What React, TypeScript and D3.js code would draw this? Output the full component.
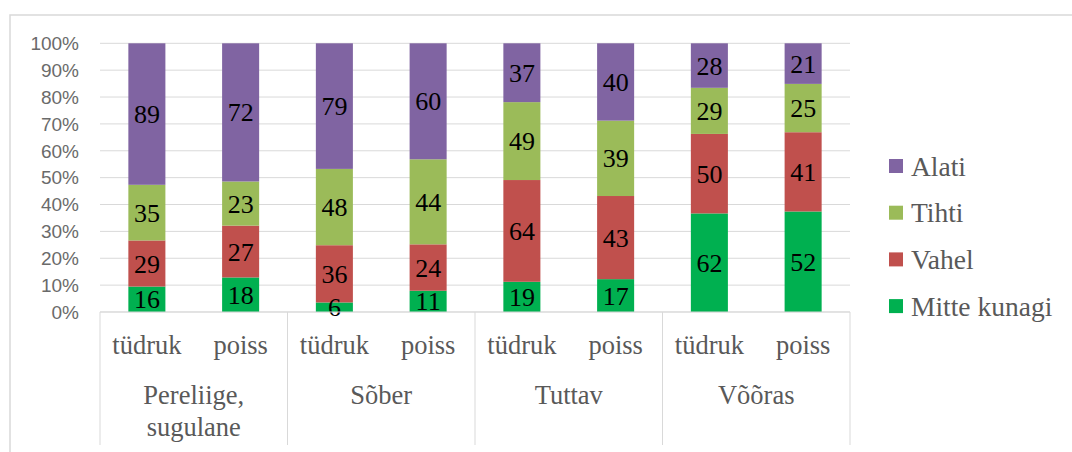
import React from "react";
import * as d3 from "d3";

const groups = ["Pereliige,|sugulane", "Sõber", "Tuttav", "Võõras"];
const genders = ["tüdruk", "poiss"];
const seriesNames = ["Mitte kunagi", "Vahel", "Tihti", "Alati"];
const seriesColors = ["#00B050", "#C0504D", "#9BBB59", "#8064A2"];
const mitteKunagi = [16, 18, 6, 11, 19, 17, 62, 52];
const vahel = [29, 27, 36, 24, 64, 43, 50, 41];
const tihti = [35, 23, 48, 44, 49, 39, 29, 25];
const alati = [89, 72, 79, 60, 37, 40, 28, 21];
const yTicks = [0, 0.1, 0.2, 0.3, 0.4, 0.5, 0.6, 0.7, 0.8, 0.9, 1];

const W = 1072;
const H = 452;
const plot = { left: 100, right: 850, top: 43.3, bottom: 312 };
const serif = "'Liberation Serif', 'Times New Roman', serif";
const sans = "'Liberation Sans', Arial, sans-serif";

export default function App() {
  const keys = groups.flatMap((g, gi) => genders.map((s) => `${gi}-${s}`));
  const x = d3
    .scaleBand<string>()
    .domain(keys)
    .range([plot.left, plot.right])
    .paddingInner(0.605)
    .paddingOuter(0.3025);
  const y = d3.scaleLinear().domain([0, 1]).range([plot.bottom, plot.top]);
  const seriesData = [mitteKunagi, vahel, tihti, alati];

  const rows = keys.map((k, i) => {
    const obj: any = { key: k };
    seriesNames.forEach((n, si) => (obj[n] = seriesData[si][i]));
    return obj;
  });
  const stacked = d3.stack<any>().keys(seriesNames).offset(d3.stackOffsetExpand)(rows);
  const groupW = (plot.right - plot.left) / groups.length;

  return (
    <div style={{ position: "absolute", left: 0, top: 0 }}>
      <svg width={W} height={H} style={{ display: "block", background: "#fff" }}>
        <rect x={10} y={15} width={W + 20} height={H + 20} fill="none" stroke="#d9d9d9" strokeWidth={1.5} />
        {yTicks.map((t) => (
          <g key={t}>
            <line x1={plot.left} x2={plot.right} y1={y(t)} y2={y(t)} stroke="#d9d9d9" strokeWidth={1} />
            <text x={79} y={y(t)} dy="0.36em" textAnchor="end" fontFamily={sans} fontSize={19} fill="#6a6a6a">
              {d3.format(".0%")(t)}
            </text>
          </g>
        ))}
        {stacked.map((s, si) => (
          <g key={s.key} fill={seriesColors[si]}>
            {s.map((d, i) => (
              <rect key={i} x={x(keys[i])} width={x.bandwidth()} y={y(d[1])} height={y(d[0]) - y(d[1])} />
            ))}
          </g>
        ))}
        {stacked.map((s, si) => (
          <g key={"l" + s.key}>
            {s.map((d, i) => (
              <text
                key={i}
                x={(x(keys[i]) as number) + x.bandwidth() / 2}
                y={(y(d[0]) + y(d[1])) / 2}
                dy="0.35em"
                textAnchor="middle"
                fontFamily={serif}
                fontSize={26}
                fill="#000"
              >
                {seriesData[si][i]}
              </text>
            ))}
          </g>
        ))}
        <line x1={plot.left} x2={plot.right} y1={plot.bottom} y2={plot.bottom} stroke="#d9d9d9" strokeWidth={1} />
        {d3.range(groups.length + 1).map((i) => (
          <line
            key={"sep" + i}
            x1={plot.left + i * groupW}
            x2={plot.left + i * groupW}
            y1={plot.bottom}
            y2={445}
            stroke="#d9d9d9"
            strokeWidth={1}
          />
        ))}
        {keys.map((k, i) => (
          <text
            key={"g" + k}
            x={(x(k) as number) + x.bandwidth() / 2}
            y={345}
            dy="0.35em"
            textAnchor="middle"
            fontFamily={serif}
            fontSize={26.5}
            fill="#595959"
          >
            {genders[i % 2]}
          </text>
        ))}
        {groups.map((g, gi) => {
          const lines = g.split("|");
          return (
            <text
              key={g}
              x={plot.left + (gi + 0.5) * groupW}
              y={395}
              textAnchor="middle"
              fontFamily={serif}
              fontSize={26.5}
              fill="#595959"
            >
              {lines.map((ln, li) => (
                <tspan key={li} x={plot.left + (gi + 0.5) * groupW} y={395 + li * 32} dy="0.35em">
                  {ln}
                </tspan>
              ))}
            </text>
          );
        })}
        {[3, 2, 1, 0].map((si, idx) => {
          const cy = 166 + idx * 46.7;
          return (
            <g key={"leg" + si}>
              <rect x={889} y={cy - 7} width={14} height={14} fill={seriesColors[si]} />
              <text x={911} y={cy} dy="0.35em" fontFamily={serif} fontSize={27.5} fill="#595959">
                {seriesNames[si]}
              </text>
            </g>
          );
        })}
      </svg>
    </div>
  );
}
